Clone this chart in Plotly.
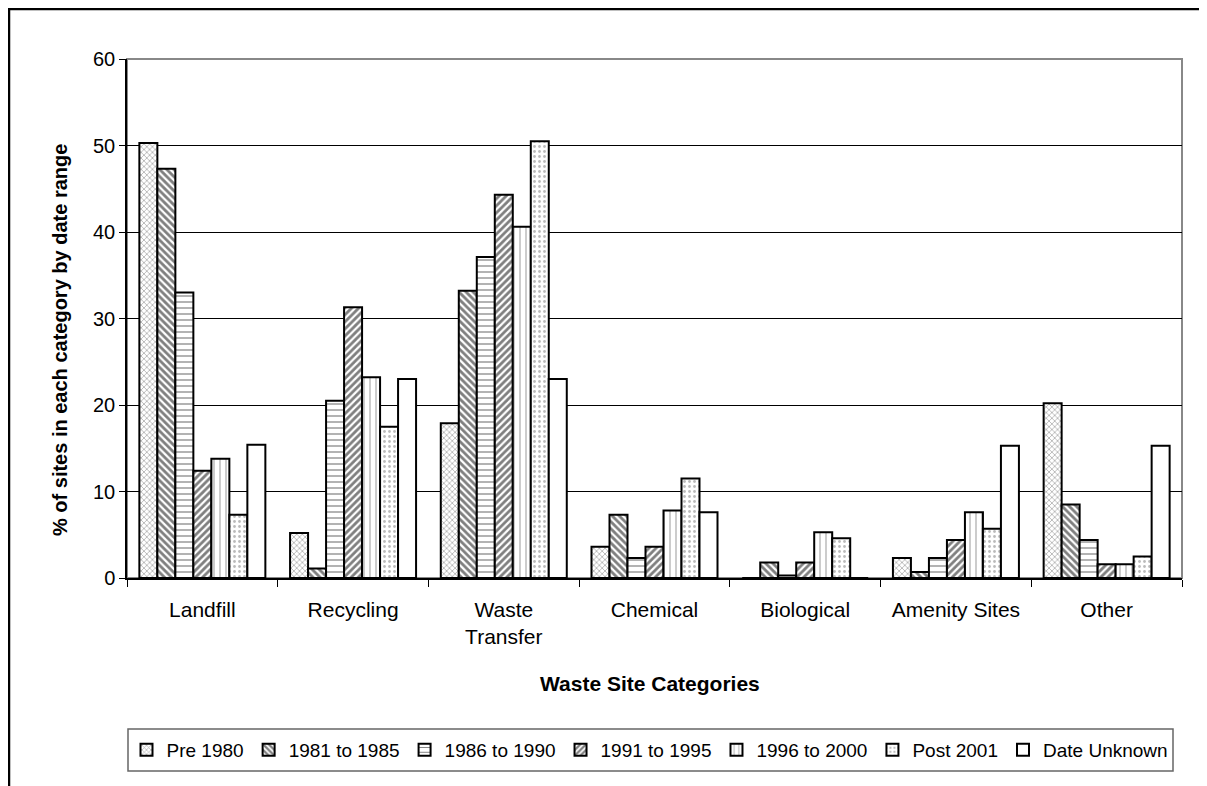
import plotly.graph_objects as go

categories = ["Landfill", "Recycling", "Waste<br>Transfer", "Chemical", "Biological", "Amenity Sites", "Other"]

pre_1980 = [50.3, 5.2, 17.9, 3.6, 0.0, 2.3, 20.2]
y1981_1985 = [47.3, 1.1, 33.2, 7.3, 1.8, 0.7, 8.5]
y1986_1990 = [33.0, 20.5, 37.1, 2.3, 0.3, 2.3, 4.4]
y1991_1995 = [12.4, 31.3, 44.3, 3.6, 1.8, 4.4, 1.6]
y1996_2000 = [13.8, 23.2, 40.6, 7.8, 5.3, 7.6, 1.6]
post_2001 = [7.3, 17.5, 50.5, 11.5, 4.6, 5.7, 2.5]
date_unknown = [15.4, 23.0, 23.0, 7.6, 0.0, 15.3, 15.3]

series_names = ["Pre 1980", "1981 to 1985", "1986 to 1990", "1991 to 1995",
                "1996 to 2000", "Post 2001", "Date Unknown"]
series_values = [pre_1980, y1981_1985, y1986_1990, y1991_1995, y1996_2000, post_2001, date_unknown]

patterns = [
    dict(shape="x", size=4, solidity=0.35, fgcolor="#555555", bgcolor="white"),
    dict(shape="\\", size=5, solidity=0.55, fgcolor="black", bgcolor="white"),
    dict(shape="-", size=6, solidity=0.2, fgcolor="black", bgcolor="white"),
    dict(shape="/", size=5, solidity=0.55, fgcolor="black", bgcolor="white"),
    dict(shape="|", size=6, solidity=0.25, fgcolor="#777777", bgcolor="white"),
    dict(shape=".", size=5, solidity=0.25, fgcolor="#777777", bgcolor="white"),
    dict(shape="", bgcolor="white"),
]

FONT = "Liberation Sans, Arial, sans-serif"

fig = go.Figure()
for name, vals, pat in zip(series_names, series_values, patterns):
    fig.add_trace(go.Bar(
        name=name, x=categories, y=vals,
        marker=dict(color="white", pattern=pat, line=dict(color="black", width=2)),
    ))

# page has an 8px body margin: figure pixel = page pixel - 8
OFF = 8
W, H = 1199, 778
L, R, T, B = 119, 25, 51, 208
pw, ph = W - L - R, H - T - B

def px_x(x):
    return (x - OFF - L) / pw

def px_y(y):
    return (H - B - (y - OFF)) / ph

fig.update_layout(
    width=W, height=H,
    margin=dict(l=L, r=R, t=T, b=B),
    paper_bgcolor="white", plot_bgcolor="white",
    barmode="group", bargap=0.164, bargroupgap=0,
    font=dict(family=FONT, size=20, color="black"),
    showlegend=True,
    legend=dict(orientation="h", x=px_x(650), xanchor="center", y=px_y(750), yanchor="middle",
                font=dict(size=19, family=FONT), bgcolor="rgba(0,0,0,0)",
                itemwidth=30, traceorder="normal"),
    xaxis=dict(showline=True, linecolor="black", linewidth=1.5, ticks="outside",
               tickson="boundaries", ticklen=7, tickcolor="black", showgrid=False,
               tickfont=dict(size=21), ticklabelstandoff=12),
    yaxis=dict(range=[0, 60], dtick=10, showline=True, linecolor="black", linewidth=1.5,
               ticks="outside", ticklen=6, tickcolor="black", showgrid=True,
               gridcolor="black", gridwidth=1, zeroline=False, tickfont=dict(size=20)),
    shapes=[
        dict(type="rect", xref="paper", yref="paper", x0=0, x1=1, y0=0, y1=1,
             line=dict(color="#888888", width=2), layer="below"),
        dict(type="rect", xref="paper", yref="paper",
             x0=px_x(9), x1=px_x(1230), y0=px_y(820), y1=px_y(9),
             line=dict(color="black", width=2.5)),
        dict(type="rect", xref="paper", yref="paper",
             x0=px_x(128), x1=px_x(1173), y0=px_y(771), y1=px_y(729),
             line=dict(color="#666666", width=1.5)),
    ],
    annotations=[
        dict(text="<b>Waste Site Categories</b>", xref="paper", yref="paper",
             x=px_x(650), y=px_y(683), xanchor="center", yanchor="middle", showarrow=False,
             font=dict(size=21, family=FONT)),
        dict(text="<b>% of sites in each category by date range</b>", xref="paper", yref="paper",
             x=px_x(60), y=px_y(340), xanchor="center", yanchor="middle", showarrow=False,
             textangle=-90, font=dict(size=20, family=FONT)),
    ],
)

fig.write_html("out.html")
